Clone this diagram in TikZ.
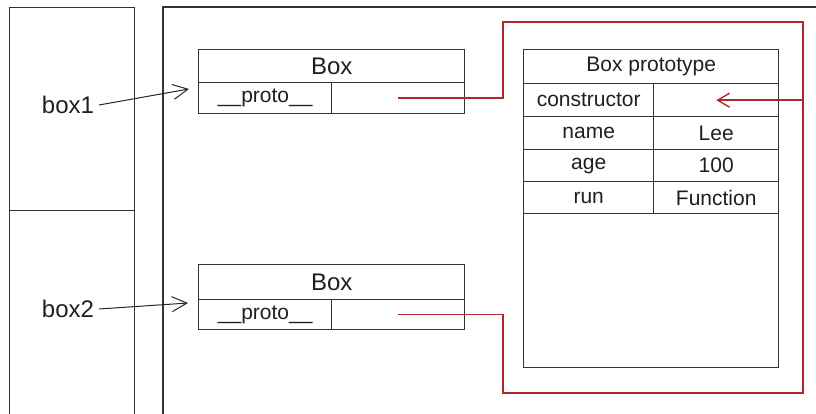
\documentclass[tikz,border=0pt]{standalone}
\usepackage{fontspec}
\setmainfont{Liberation Sans}
\usetikzlibrary{arrows.meta}
\definecolor{linegray}{HTML}{333333}
\definecolor{refred}{HTML}{B3262B}

\begin{document}
\begin{tikzpicture}[
  x=1pt,y=-1pt,
  frame/.style={draw=linegray,line width=1.4pt},
  cell/.style={draw=linegray,line width=1.4pt,inner sep=0pt,anchor=north west,
    text=black!88,font=\fontsize{21}{23}\selectfont},
  head/.style={cell,font=\fontsize{24}{26}\selectfont},
  varname/.style={text=black!88,font=\fontsize{24}{26}\selectfont,inner sep=2pt,outer sep=3pt},
  varlink/.style={draw=black!85,line width=1pt,-{Straight Barb[length=15pt,width=15pt]}},
  reflink/.style={draw=refred,line width=1.4pt}
]
\clip (0,0) rectangle (816,414);

% stack and heap panels
\node[frame,anchor=north west,minimum width=125pt,minimum height=203pt] (slot1) at (9,7) {};
\node[frame,anchor=north west,minimum width=125pt,minimum height=230pt] (slot2) at (9,210) {};
\draw[frame] (163,430) |- (830,7);

\node[varname] (v1) at (68,105) {box1};
\node[varname] (v2) at (68,309) {box2};

% the two instances
\node[head,minimum width=266pt,minimum height=33pt] (b1head) at (198,49) {Box};
\node[cell,minimum width=133pt,minimum height=31pt] (b1key) at (198,82) {\_\_proto\_\_};
\node[cell,minimum width=133pt,minimum height=31pt] (b1val) at (331,82) {};
\node[head,minimum width=266pt,minimum height=35pt] (b2head) at (198,264) {Box};
\node[cell,minimum width=133pt,minimum height=30pt] (b2key) at (198,299) {\_\_proto\_\_};
\node[cell,minimum width=133pt,minimum height=30pt] (b2val) at (331,299) {};

% prototype object
\node[cell,minimum width=255pt,minimum height=34pt] (phead) at (523,49) {Box prototype};
\foreach \y/\h/\k/\v/\n in {83/33/constructor/{}/ctor,116/33/name/Lee/name,
    149/32/age/100/age,181/32/run/Function/run} {
  \node[cell,minimum width=130pt,minimum height=\h pt] (\n key) at (523,\y) {\k};
  \node[cell,minimum width=125pt,minimum height=\h pt] (\n val) at (653,\y) {\v};
}
\node[cell,minimum width=255pt,minimum height=154pt] (prest) at (523,213) {};

% variables point at the instances
\draw[varlink] (v1.east) -- ([xshift=-9pt,yshift=-7pt]b1key.north west);
\draw[varlink] (v2.east) -- ([xshift=-10pt,yshift=-4pt]b2key.north west);

% __proto__ links into the constructor slot
\coordinate (tl) at (503,22);
\coordinate (tr) at (803,22);
\coordinate (bl) at (503,393);
\coordinate (joint) at (tr |- ctorval);
\draw[reflink] (b1val.center) -| (tl) -- (tr) -- (joint);
\draw[reflink] (b2val.center) -| (bl) -| (joint);
\draw[reflink,-{Straight Barb[length=12pt,width=14pt]}] (joint) -- (ctorval.center);
\end{tikzpicture}
\end{document}
